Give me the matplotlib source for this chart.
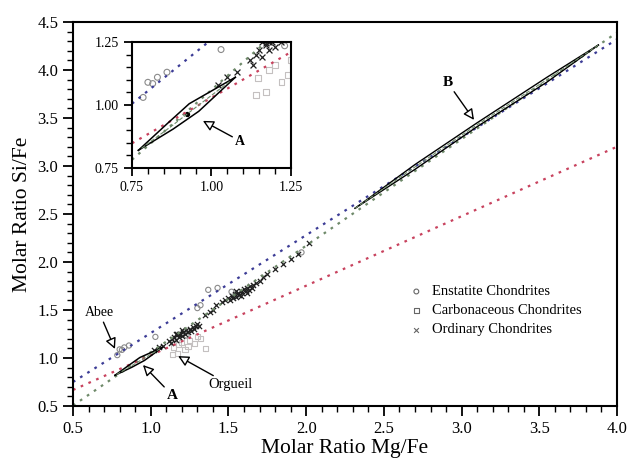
import numpy as np
import matplotlib.pyplot as plt
from matplotlib.ticker import MultipleLocator

plt.rcParams['font.family'] = ['Liberation Serif', 'DejaVu Serif']

# fitted trend lines y = a*x + b
blue_fit = (1.02, 0.24)
green_fit = (1.11, -0.05)
red_fit = (0.724, 0.305)

# ordinary chondrites (x)
ord_x = [1.02, 1.05, 1.08, 1.12, 1.14, 1.15, 1.16, 1.17, 1.18, 1.19, 1.20, 1.21, 1.22, 1.23,
         1.24, 1.25, 1.26, 1.27, 1.28, 1.29, 1.30, 1.31, 1.16, 1.13, 1.20, 1.35, 1.38, 1.42,
         1.40, 1.46, 1.48, 1.50, 1.51, 1.52, 1.53, 1.54, 1.55, 1.56, 1.57, 1.58, 1.59, 1.60,
         1.61, 1.62, 1.63, 1.64, 1.65, 1.66, 1.68, 1.70, 1.55, 1.58, 1.62, 1.75, 1.80, 1.85,
         1.90, 1.95, 2.02, 1.72, 1.17, 1.18]
ord_y = [1.08, 1.11, 1.13, 1.18, 1.20, 1.22, 1.19, 1.24, 1.22, 1.25, 1.23, 1.27, 1.25, 1.29,
         1.27, 1.30, 1.28, 1.32, 1.30, 1.33, 1.35, 1.33, 1.25, 1.16, 1.29, 1.45, 1.48, 1.55,
         1.50, 1.58, 1.60, 1.62, 1.60, 1.65, 1.63, 1.67, 1.64, 1.68, 1.66, 1.70, 1.68, 1.72,
         1.70, 1.73, 1.71, 1.75, 1.73, 1.76, 1.78, 1.80, 1.70, 1.65, 1.68, 1.87, 1.93, 1.98,
         2.03, 2.08, 2.20, 1.84, 1.245, 1.25]

# enstatite chondrites (o)
ens_x = [0.785, 0.80, 0.815, 0.86, 0.83, 1.03, 1.30, 1.32, 1.37, 1.43, 1.52, 1.97, 1.23]
ens_y = [1.03, 1.09, 1.085, 1.13, 1.11, 1.22, 1.52, 1.55, 1.71, 1.73, 1.69, 2.10, 1.235]

# carbonaceous chondrites (squares)
carb_x = [1.146, 1.18, 1.22, 1.20, 1.25, 1.28, 1.32, 1.35, 1.17, 1.14, 1.30, 1.24]
carb_y = [1.107, 1.14, 1.09, 1.16, 1.18, 1.15, 1.20, 1.10, 1.05, 1.04, 1.22, 1.12]

# envelope A (upper and lower edges)
a_up_x = [0.77, 0.86, 0.93, 1.075]
a_up_y = [0.82, 0.925, 1.005, 1.11]
a_lo_x = [0.77, 0.88, 0.96, 1.075]
a_lo_y = [0.82, 0.905, 0.975, 1.11]
a_mid_x = [0.78, 0.87, 0.95, 1.06]
a_mid_y = [0.828, 0.912, 0.99, 1.096]

# envelope B (centre line)
b_x = [2.315, 2.7, 3.1, 3.55, 3.88]
b_y = [2.56, 2.99, 3.43, 3.90, 4.26]


def draw_lines(ax, x0, x1):
    xs = np.array([x0, x1])
    dots = (0, (1.2, 2.6))
    ax.plot(xs, blue_fit[0] * xs + blue_fit[1], color='#3c3c96', lw=1.6, ls=dots)
    ax.plot(xs, green_fit[0] * xs + green_fit[1], color='#6f8a6a', lw=1.6, ls=dots)
    ax.plot(xs, red_fit[0] * xs + red_fit[1], color='#c8425e', lw=1.6, ls=dots)


def draw_points(ax, ms):
    ax.scatter(carb_x, carb_y, marker='s', s=ms, facecolors='none', edgecolors='#c4c0c0', lw=0.8)
    ax.scatter(ens_x, ens_y, marker='o', s=ms, facecolors='none', edgecolors='#8a8a8a', lw=0.8)
    ax.scatter(ord_x, ord_y, marker='x', s=ms, color='#202020', lw=0.9)


def draw_envelope_a(ax):
    ax.plot(a_up_x, a_up_y, color='black', lw=1.1)
    ax.plot(a_lo_x, a_lo_y, color='black', lw=1.1)
    ax.plot(a_mid_x, a_mid_y, color='#6f8a6a', lw=0.8, ls='--')


fig = plt.figure(figsize=(6.3, 4.62), dpi=100)
ax = fig.add_axes([0.1159, 0.1212, 0.8635, 0.8312])

draw_lines(ax, 0.5, 4.0)
draw_points(ax, 14)
draw_envelope_a(ax)

bx = np.array(b_x)
by = np.array(b_y)
half = np.array([0.0, 0.025, 0.02, 0.025, 0.0])
ax.plot(bx, by + half, color='black', lw=1.0)
ax.plot(bx, by - half, color='black', lw=1.0)
ax.plot(bx, by, color='#6f8a6a', lw=0.8, ls='--')

ax.set_xlim(0.5, 4.0)
ax.set_ylim(0.5, 4.5)
ax.xaxis.set_major_locator(MultipleLocator(0.5))
ax.xaxis.set_minor_locator(MultipleLocator(0.1))
ax.yaxis.set_major_locator(MultipleLocator(0.5))
ax.yaxis.set_minor_locator(MultipleLocator(0.1))
ax.tick_params(which='major', direction='out', length=7, width=1.3, labelsize=12)
ax.tick_params(which='minor', direction='out', length=4, width=1.0)
for s in ax.spines.values():
    s.set_linewidth(1.5)
ax.set_xlabel('Molar Ratio Mg/Fe', fontsize=15.5, labelpad=2)
ax.set_ylabel('Molar Ratio Si/Fe', fontsize=15.5, labelpad=4)

arrow = dict(arrowstyle='-|>', fc='white', ec='black', lw=1.0, mutation_scale=16, shrinkA=0, shrinkB=0)
ax.annotate('Abee', xy=(0.77, 1.094), xytext=(0.67, 1.47), fontsize=10,
            ha='center', va='center', arrowprops=arrow)
ax.annotate('A', xy=(0.95, 0.927), xytext=(1.14, 0.61), fontsize=11, fontweight='bold',
            ha='center', va='center', arrowprops=arrow)
ax.annotate('Orgueil', xy=(1.176, 1.02), xytext=(1.51, 0.72), fontsize=10.5,
            ha='center', va='center', arrowprops=arrow)
ax.annotate('B', xy=(3.08, 3.48), xytext=(2.91, 3.87), fontsize=11, fontweight='bold',
            ha='center', va='center', arrowprops=arrow)

h1 = ax.scatter([], [], marker='o', s=12, facecolors='none', edgecolors='#666666', lw=0.8)
h2 = ax.scatter([], [], marker='s', s=12, facecolors='none', edgecolors='#666666', lw=0.8)
h3 = ax.scatter([], [], marker='x', s=12, color='#666666', lw=0.8)
ax.legend([h1, h2, h3], ['Enstatite Chondrites', 'Carbonaceous Chondrites', 'Ordinary Chondrites'],
          loc='upper left', bbox_to_anchor=(0.607, 0.33), frameon=False, fontsize=10.5,
          handlelength=1.0, handletextpad=0.55, labelspacing=0.4, borderaxespad=0)

# inset
ins = fig.add_axes([0.2095, 0.6364, 0.2524, 0.2727])
draw_lines(ins, 0.75, 1.25)
draw_points(ins, 18)
draw_envelope_a(ins)
ins.scatter([0.922], [0.964], s=8, color='black')
ins.set_xlim(0.75, 1.25)
ins.set_ylim(0.75, 1.25)
ins.xaxis.set_major_locator(MultipleLocator(0.25))
ins.xaxis.set_minor_locator(MultipleLocator(0.05))
ins.yaxis.set_major_locator(MultipleLocator(0.25))
ins.yaxis.set_minor_locator(MultipleLocator(0.05))
ins.tick_params(which='major', direction='out', length=6, width=1.3, labelsize=10)
ins.tick_params(which='minor', direction='out', length=4, width=1.0)
for s in ins.spines.values():
    s.set_linewidth(1.5)
ins.annotate('A', xy=(0.973, 0.937), xytext=(1.09, 0.857), fontsize=10, fontweight='bold',
             ha='center', va='center', arrowprops=arrow)

fig.savefig('out.png', dpi=100)
